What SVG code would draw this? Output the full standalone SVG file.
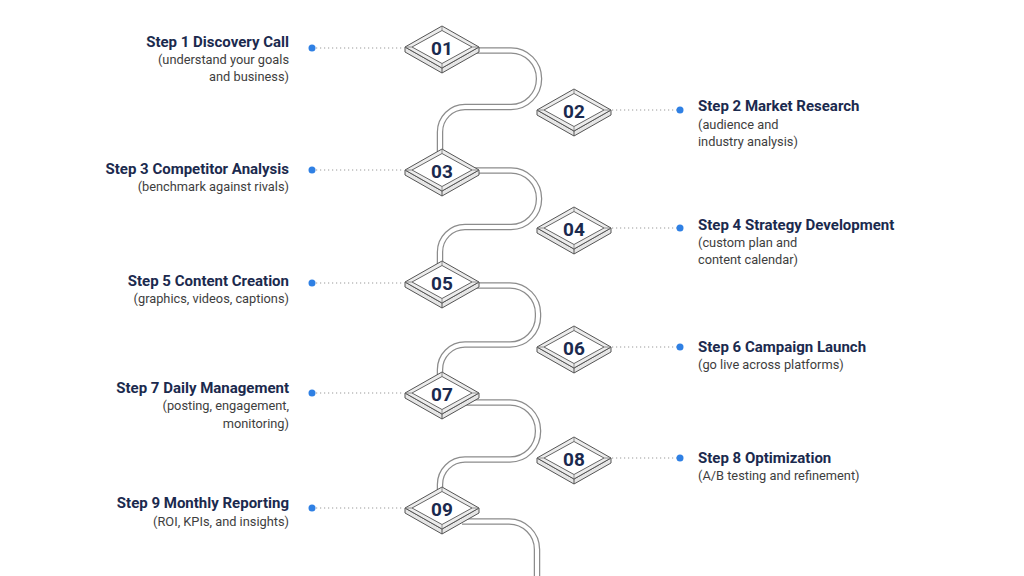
<svg xmlns="http://www.w3.org/2000/svg" xmlns:xlink="http://www.w3.org/1999/xlink" width="1024" height="576" viewBox="0 0 1024 576">
<style>
.t{font-family:Roboto,"Liberation Sans",sans-serif;font-weight:700;font-size:15px;fill:#1b2a4e}
.s{font-family:Roboto,"Liberation Sans",sans-serif;font-size:12.8px;fill:#3e3e3e}
.n{font-family:Roboto,"Liberation Sans",sans-serif;font-weight:700;font-size:19px;fill:#1b2a4e;text-anchor:middle}
.l{text-anchor:end}
.pipeo{fill:none;stroke:#8c8c8c;stroke-width:6.5}
.pipei{fill:none;stroke:#ffffff;stroke-width:4}
.dot{stroke:#999;stroke-width:1.2;stroke-dasharray:1.2 2.8;fill:none}
.bd{fill:#2f80e4}
</style>
<defs>
<g id="dia">
<polygon points="-37,0 0,21 37,0 37,5 0,26 -37,5" fill="#e6e6e6" stroke="#555" stroke-width="1"/>
<line x1="0" y1="21" x2="0" y2="26" stroke="#555" stroke-width="1"/>
<polygon points="0,-21 37,0 0,21 -37,0" fill="#ececec" stroke="#555" stroke-width="1"/>
<polygon points="0,-16.5 30,0 0,16.5 -30,0" fill="#ffffff" stroke="#666" stroke-width="1"/>
<line x1="0" y1="-21" x2="0" y2="-16.5" stroke="#777" stroke-width="0.8"/>
<line x1="37" y1="0" x2="30" y2="0" stroke="#777" stroke-width="0.8"/>
<line x1="-37" y1="0" x2="-30" y2="0" stroke="#777" stroke-width="0.8"/>
<line x1="0" y1="21" x2="0" y2="16.5" stroke="#777" stroke-width="0.8"/>
</g>
</defs>
<rect width="1024" height="576" fill="#ffffff"/>
<g id="connectors">
<path class="pipeo" d="M470,50.5 H511 A28,28 0 0 1 539,78.5 V79 A28,28 0 0 1 511,107 H465 A25,25 0 0 0 440,132 V155"/>
<path class="pipei" d="M470,50.5 H511 A28,28 0 0 1 539,78.5 V79 A28,28 0 0 1 511,107 H465 A25,25 0 0 0 440,132 V155"/>
<path class="pipeo" d="M470,170.5 H511 A28,28 0 0 1 539,198.5 V199 A28,28 0 0 1 511,227 H465 A25,25 0 0 0 440,252 V267"/>
<path class="pipei" d="M470,170.5 H511 A28,28 0 0 1 539,198.5 V199 A28,28 0 0 1 511,227 H465 A25,25 0 0 0 440,252 V267"/>
<path class="pipeo" d="M468,285.5 H510 A28,28 0 0 1 538,313.5 V316.5 A28,28 0 0 1 510,344.5 H465 A25,25 0 0 0 440,369.5 V378"/>
<path class="pipei" d="M468,285.5 H510 A28,28 0 0 1 538,313.5 V316.5 A28,28 0 0 1 510,344.5 H465 A25,25 0 0 0 440,369.5 V378"/>
<path class="pipeo" d="M465,402.5 H510 A28,28 0 0 1 538,430.5 V431.5 A28,28 0 0 1 510,459.5 H465 A25,25 0 0 0 440,484.5 V493"/>
<path class="pipei" d="M465,402.5 H510 A28,28 0 0 1 538,430.5 V431.5 A28,28 0 0 1 510,459.5 H465 A25,25 0 0 0 440,484.5 V493"/>
<path class="pipeo" d="M462,521.5 H509 A28,28 0 0 1 537,549.5 V580"/>
<path class="pipei" d="M462,521.5 H509 A28,28 0 0 1 537,549.5 V580"/>
<line class="dot" x1="316" y1="48" x2="404" y2="48"/>
<line class="dot" x1="316" y1="170" x2="404" y2="170"/>
<line class="dot" x1="316" y1="283" x2="404" y2="283"/>
<line class="dot" x1="316" y1="393" x2="404" y2="393"/>
<line class="dot" x1="316" y1="508" x2="404" y2="508"/>
<line class="dot" x1="612" y1="110" x2="677" y2="110"/>
<line class="dot" x1="612" y1="228" x2="677" y2="228"/>
<line class="dot" x1="612" y1="347" x2="677" y2="347"/>
<line class="dot" x1="612" y1="458" x2="677" y2="458"/>
</g>
<g id="step1">
<use xlink:href="#dia" x="442" y="47"/>
<text class="n" x="442" y="54.5">01</text>
<circle class="bd" cx="312" cy="48" r="3.5"/>
<text class="t l" x="289" y="47">Step 1 Discovery Call</text>
<text class="s l" x="289" y="64">(understand your goals</text>
<text class="s l" x="289" y="81">and business)</text>
</g>
<g id="step2">
<use xlink:href="#dia" x="574" y="110"/>
<text class="n" x="574" y="117.5">02</text>
<circle class="bd" cx="680" cy="110" r="3.5"/>
<text class="t" x="698" y="111">Step 2 Market Research</text>
<text class="s" x="698" y="129">(audience and</text>
<text class="s" x="698" y="146">industry analysis)</text>
</g>
<g id="step3">
<use xlink:href="#dia" x="442" y="170"/>
<text class="n" x="442" y="177.5">03</text>
<circle class="bd" cx="312" cy="170" r="3.5"/>
<text class="t l" x="289" y="174">Step 3 Competitor Analysis</text>
<text class="s l" x="289" y="191">(benchmark against rivals)</text>
</g>
<g id="step4">
<use xlink:href="#dia" x="574" y="228"/>
<text class="n" x="574" y="235.5">04</text>
<circle class="bd" cx="680" cy="228" r="3.5"/>
<text class="t" x="698" y="230">Step 4 Strategy Development</text>
<text class="s" x="698" y="247">(custom plan and</text>
<text class="s" x="698" y="264">content calendar)</text>
</g>
<g id="step5">
<use xlink:href="#dia" x="442" y="282"/>
<text class="n" x="442" y="289.5">05</text>
<circle class="bd" cx="312" cy="283" r="3.5"/>
<text class="t l" x="289" y="286">Step 5 Content Creation</text>
<text class="s l" x="289" y="303">(graphics, videos, captions)</text>
</g>
<g id="step6">
<use xlink:href="#dia" x="574" y="347"/>
<text class="n" x="574" y="354.5">06</text>
<circle class="bd" cx="680" cy="347" r="3.5"/>
<text class="t" x="698" y="352">Step 6 Campaign Launch</text>
<text class="s" x="698" y="369">(go live across platforms)</text>
</g>
<g id="step7">
<use xlink:href="#dia" x="442" y="393"/>
<text class="n" x="442" y="400.5">07</text>
<circle class="bd" cx="312" cy="393" r="3.5"/>
<text class="t l" x="289" y="393">Step 7 Daily Management</text>
<text class="s l" x="289" y="410">(posting, engagement,</text>
<text class="s l" x="289" y="428">monitoring)</text>
</g>
<g id="step8">
<use xlink:href="#dia" x="574" y="458"/>
<text class="n" x="574" y="465.5">08</text>
<circle class="bd" cx="680" cy="458" r="3.5"/>
<text class="t" x="698" y="463">Step 8 Optimization</text>
<text class="s" x="698" y="480">(A/B testing and refinement)</text>
</g>
<g id="step9">
<use xlink:href="#dia" x="442" y="508"/>
<text class="n" x="442" y="515.5">09</text>
<circle class="bd" cx="312" cy="508" r="3.5"/>
<text class="t l" x="289" y="508">Step 9 Monthly Reporting</text>
<text class="s l" x="289" y="526">(ROI, KPIs, and insights)</text>
</g>
</svg>
